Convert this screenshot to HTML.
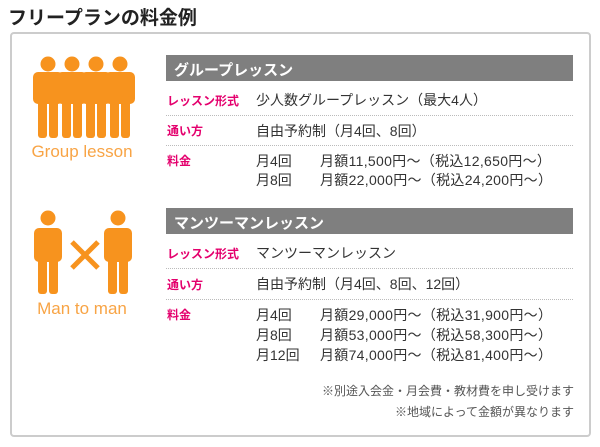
<!DOCTYPE html>
<html><head><meta charset="utf-8"><style>
*{margin:0;padding:0;box-sizing:border-box}
body{width:600px;height:447px;background:#fff;position:relative;overflow:hidden;font-family:"Liberation Sans","Noto Sans CJK JP",sans-serif;color:#333}
.a{position:absolute;white-space:nowrap}
.title{left:8px;top:3px;font-size:19px;font-weight:bold;color:#222}
.box{left:10px;top:32px;width:581px;height:405px;border:2px solid #ccc;border-radius:4px}
.hd{left:166px;width:407px;height:26px;background:#7f7f7f;color:#fff;font-weight:bold;font-size:15px;padding:4px 0 0 8px}
.lb{left:167px;font-size:12px;font-weight:bold;color:#e4006d}
.v{font-size:14px;color:#333}
.pr{letter-spacing:0.3px}
.ln{left:166px;width:407px;border-top:1px dotted #bbb}
.cap{font-size:17px;color:#f8a445;text-align:center;width:140px}
.note{font-size:12px;color:#555;right:26px;text-align:right}
</style></head><body>
<div class="a title">フリープランの料金例</div>
<div class="a box"></div>

<svg class="a" style="left:30px;top:56px" width="110" height="82" viewBox="0 0 110 82">
<g fill="#f7931e">
<g id="p"><circle cx="18" cy="8" r="7.5"/><rect x="3" y="16" width="30" height="32" rx="5"/><rect x="8" y="40" width="9" height="42" rx="3"/><rect x="19" y="40" width="9" height="42" rx="3"/></g>
<use href="#p" x="24"/><use href="#p" x="48"/><use href="#p" x="72"/>
</g></svg>
<div class="a cap" style="left:12px;top:142px">Group lesson</div>

<svg class="a" style="left:30px;top:210px" width="110" height="84" viewBox="0 0 110 84">
<g fill="#f7931e">
<circle cx="18" cy="8" r="7.5"/><rect x="4" y="18" width="28" height="34" rx="5"/><rect x="8" y="40" width="9" height="44" rx="3"/><rect x="19" y="40" width="9" height="44" rx="3"/>
<circle cx="88" cy="8" r="7.5"/><rect x="74" y="18" width="28" height="34" rx="5"/><rect x="78" y="40" width="9" height="44" rx="3"/><rect x="89" y="40" width="9" height="44" rx="3"/>
</g>
<path d="M42 32 L68 58 M68 32 L42 58" stroke="#f7931e" stroke-width="5"/>
</svg>
<div class="a cap" style="left:12px;top:299px">Man to man</div>

<div class="a hd" style="top:55px">グループレッスン</div>
<div class="a lb" style="top:92px">レッスン形式</div>
<div class="a v" style="left:256px;top:90px">少人数グループレッスン（最大4人）</div>
<div class="a ln" style="top:115px"></div>
<div class="a lb" style="top:122px">通い方</div>
<div class="a v" style="left:256px;top:121px">自由予約制（月4回、8回）</div>
<div class="a ln" style="top:145px"></div>
<div class="a lb" style="top:152px">料金</div>
<div class="a v" style="left:256px;top:151px">月4回</div>
<div class="a v pr" style="left:320px;top:151px">月額11,500円～（税込12,650円～）</div>
<div class="a v" style="left:256px;top:170px">月8回</div>
<div class="a v pr" style="left:320px;top:170px">月額22,000円～（税込24,200円～）</div>

<div class="a hd" style="top:208px">マンツーマンレッスン</div>
<div class="a lb" style="top:245px">レッスン形式</div>
<div class="a v" style="left:256px;top:243px">マンツーマンレッスン</div>
<div class="a ln" style="top:268px"></div>
<div class="a lb" style="top:276px">通い方</div>
<div class="a v" style="left:256px;top:274px">自由予約制（月4回、8回、12回）</div>
<div class="a ln" style="top:299px"></div>
<div class="a lb" style="top:306px">料金</div>
<div class="a v" style="left:256px;top:305px">月4回</div>
<div class="a v pr" style="left:320px;top:305px">月額29,000円～（税込31,900円～）</div>
<div class="a v" style="left:256px;top:325px">月8回</div>
<div class="a v pr" style="left:320px;top:325px">月額53,000円～（税込58,300円～）</div>
<div class="a v" style="left:256px;top:345px">月12回</div>
<div class="a v pr" style="left:320px;top:345px">月額74,000円～（税込81,400円～）</div>

<div class="a note" style="top:382px">※別途入会金・月会費・教材費を申し受けます</div>
<div class="a note" style="top:403px">※地域によって金額が異なります</div>
</body></html>
